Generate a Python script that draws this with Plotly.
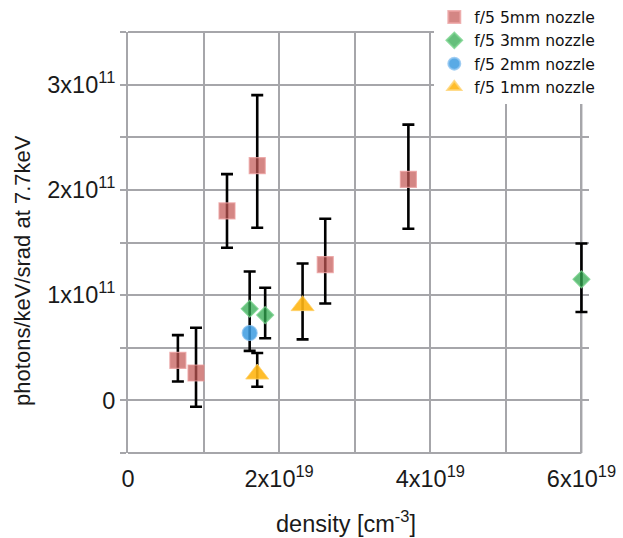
import plotly.graph_objects as go

# density [cm^-3] and photon yield [photons/keV/srad at 7.7 keV] per nozzle
dens_5mm = [0.66e19, 0.90e19, 1.31e19, 1.71e19, 2.61e19, 3.71e19]
yield_5mm = [0.38e11, 0.26e11, 1.80e11, 2.23e11, 1.29e11, 2.10e11]
hi_5mm = [0.62e11, 0.69e11, 2.15e11, 2.90e11, 1.725e11, 2.62e11]
lo_5mm = [0.18e11, -0.06e11, 1.45e11, 1.64e11, 0.92e11, 1.63e11]

dens_3mm = [1.61e19, 1.815e19, 6.0e19]
yield_3mm = [0.87e11, 0.81e11, 1.15e11]
hi_3mm = [1.225e11, 1.07e11, 1.49e11]
lo_3mm = [0.47e11, 0.59e11, 0.84e11]

dens_2mm = [1.61e19]
yield_2mm = [0.64e11]

dens_1mm = [1.71e19, 2.31e19]
yield_1mm = [0.25e11, 0.90e11]
hi_1mm = [0.45e11, 1.30e11]
lo_1mm = [0.13e11, 0.58e11]

x_tickvals = [0, 1e19, 2e19, 3e19, 4e19, 5e19, 6e19]
x_ticktext = ["0", "", "2x10<sup>19</sup>", "", "4x10<sup>19</sup>", "", "6x10<sup>19</sup>"]
y_tickvals = [-0.5e11, 0, 0.5e11, 1e11, 1.5e11, 2e11, 2.5e11, 3e11, 3.5e11]
y_ticktext = ["", "0", "", "1x10<sup>11</sup>", "", "2x10<sup>11</sup>", "", "3x10<sup>11</sup>", ""]

X_MAX = 6e19        # right edge of the grid
X_PAD = 6.1e19      # extra room so the last error bar caps are not clipped

GRID = "rgb(166,166,170)"
FONT = "Liberation Sans"

L, T, B = 128, 32, 85
PX_PER_UNIT = 453 / X_MAX
plot_w = X_PAD * PX_PER_UNIT
R = 623 - L - plot_w
plot_h = 538 - T - B


def err(y, hi, lo):
    return dict(type="data", symmetric=False,
                array=[h - v for h, v in zip(hi, y)],
                arrayminus=[v - l for l, v in zip(lo, y)],
                color="black", thickness=2.6, width=6)


fig = go.Figure()
fig.add_trace(go.Scatter(
    x=dens_5mm, y=yield_5mm, mode="markers", name="f/5 5mm nozzle",
    cliponaxis=False, error_y=err(yield_5mm, hi_5mm, lo_5mm),
    marker=dict(symbol="square", size=16, color="rgba(196,88,84,0.72)",
                line=dict(color="rgba(235,160,160,0.8)", width=1.2))))
fig.add_trace(go.Scatter(
    x=dens_3mm, y=yield_3mm, mode="markers", name="f/5 3mm nozzle",
    cliponaxis=False, error_y=err(yield_3mm, hi_3mm, lo_3mm),
    marker=dict(symbol="diamond", size=13, color="rgba(50,170,80,0.75)",
                line=dict(color="rgba(120,210,140,0.8)", width=1.2))))
fig.add_trace(go.Scatter(
    x=dens_2mm, y=yield_2mm, mode="markers", name="f/5 2mm nozzle",
    cliponaxis=False,
    marker=dict(symbol="circle", size=15, color="rgba(60,155,225,0.85)",
                line=dict(color="rgba(140,195,240,0.8)", width=1.2))))
fig.add_trace(go.Scatter(
    x=dens_1mm, y=yield_1mm, mode="markers", name="f/5 1mm nozzle",
    cliponaxis=False, error_y=err(yield_1mm, hi_1mm, lo_1mm),
    marker=dict(symbol="triangle-up", size=20, color="rgba(255,182,20,0.9)",
                line=dict(color="rgba(255,210,110,0.8)", width=1))))

# white strip right of the last gridline hides the grid overshoot,
# sitting between the gridlines and the data
fig.add_shape(type="rect", xref="x", yref="paper",
              x0=X_MAX + 0.02e19, x1=X_PAD * 1.01, y0=-0.01, y1=1.01,
              fillcolor="white", line=dict(width=0), layer="between")
# frame: top, bottom and right edges of the grid
frame = dict(color=GRID, width=2)
fig.add_shape(type="line", xref="x", yref="paper", x0=0, x1=X_MAX, y0=1, y1=1,
              line=frame, layer="between")
fig.add_shape(type="line", xref="x", yref="paper", x0=0, x1=X_MAX, y0=0, y1=0,
              line=frame, layer="between")
fig.add_shape(type="line", xref="x", yref="paper", x0=X_MAX, x1=X_MAX, y0=0, y1=1,
              line=frame, layer="between")

fig.add_annotation(text="photons/keV/srad at 7.7keV", textangle=-90,
                   xref="paper", yref="paper", x=(22 - L) / plot_w,
                   y=(538 - B - 270) / plot_h, xanchor="center", yanchor="middle",
                   showarrow=False, font=dict(size=22, family=FONT, color="#1a1a1a"))
fig.add_annotation(text="density [cm<sup>-3</sup>]",
                   xref="paper", yref="paper", x=(345.5 - L) / plot_w,
                   y=-(522 - (538 - B)) / plot_h, xanchor="center", yanchor="middle",
                   showarrow=False, font=dict(size=23.5, family=FONT, color="#1a1a1a"))

fig.update_layout(
    width=623, height=538,
    margin=dict(l=L, r=R, t=T, b=B, autoexpand=False),
    plot_bgcolor="white", paper_bgcolor="white",
    font=dict(family=FONT, color="#1a1a1a"),
    showlegend=True,
    legend=dict(x=(434 - L) / plot_w, y=1.075, xanchor="left", yanchor="top",
                bgcolor="white", borderwidth=0,
                font=dict(family="DejaVu Sans", size=15.6, color="#111111"),
                itemsizing="constant", tracegroupgap=0),
    xaxis=dict(range=[0, X_PAD], tickmode="array", tickvals=x_tickvals,
               ticktext=x_ticktext, showgrid=True, gridcolor=GRID, gridwidth=2,
               showline=False, ticks="", zeroline=False, ticklabelstandoff=9,
               tickfont=dict(size=23.5)),
    yaxis=dict(range=[-0.5e11, 3.5e11], tickmode="array", tickvals=y_tickvals,
               ticktext=y_ticktext, showgrid=True, gridcolor=GRID, gridwidth=2,
               showline=True, linecolor=GRID, linewidth=2, mirror=False,
               ticks="outside", ticklen=6, tickwidth=2, tickcolor=GRID,
               zeroline=False, tickfont=dict(size=23.5)),
)

fig.write_html("out.html")
